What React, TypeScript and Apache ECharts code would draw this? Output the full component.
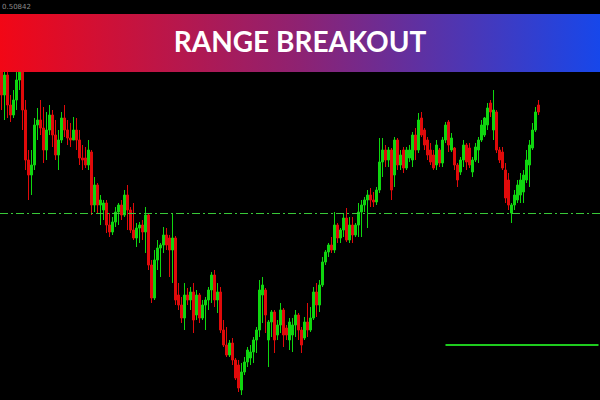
import React, { useEffect, useRef } from "react";
import * as echarts from "echarts";

// Quotes in points, one row per bar: [open, close, low, high]
const quotes: [number, number, number, number][] = [
  [940, 905, 890, 950], [905, 925, 880, 940], [925, 895, 882, 935], [895, 885, 878, 905],
  [885, 900, 882, 910], [900, 920, 890, 940], [920, 935, 910, 945], [935, 890, 870, 940],
  [890, 840, 830, 900], [840, 825, 800, 850], [825, 835, 805, 850], [835, 875, 830, 882],
  [875, 880, 860, 892], [880, 872, 865, 900], [872, 850, 837, 893], [850, 870, 840, 888],
  [870, 885, 865, 895], [885, 865, 853, 890], [865, 845, 840, 880], [845, 860, 830, 870],
  [860, 882, 857, 888], [882, 870, 863, 895], [870, 862, 855, 880], [862, 860, 853, 877],
  [860, 870, 860, 883], [870, 860, 850, 882], [860, 842, 835, 870], [842, 840, 830, 855],
  [842, 835, 832, 853], [835, 850, 830, 860], [848, 795, 785, 850], [795, 815, 788, 823],
  [815, 795, 787, 817], [795, 800, 775, 805], [790, 797, 780, 800], [797, 775, 767, 800],
  [775, 768, 763, 787], [768, 778, 765, 783], [778, 788, 773, 793], [788, 795, 775, 797],
  [795, 785, 780, 800], [785, 805, 783, 810], [805, 790, 770, 815], [790, 770, 767, 793],
  [770, 762, 760, 797], [762, 772, 753, 777], [772, 775, 757, 778], [775, 768, 760, 780],
  [768, 785, 747, 793], [785, 735, 730, 787], [735, 702, 697, 740], [702, 740, 700, 750],
  [740, 752, 730, 760], [752, 755, 723, 757], [755, 765, 747, 773], [765, 755, 750, 772],
  [762, 750, 723, 765], [750, 762, 717, 787], [762, 700, 695, 764], [705, 695, 690, 717],
  [695, 682, 677, 703], [682, 705, 670, 717], [705, 700, 695, 712], [700, 708, 690, 713],
  [708, 680, 667, 717], [685, 705, 680, 710], [705, 682, 677, 707], [682, 695, 680, 700],
  [695, 700, 670, 703], [700, 710, 690, 713], [710, 725, 697, 728], [725, 700, 693, 730],
  [700, 708, 687, 717], [708, 670, 667, 713], [670, 655, 653, 680], [655, 645, 643, 673],
  [645, 657, 643, 660], [657, 640, 635, 662], [640, 622, 620, 642], [635, 612, 608, 640],
  [610, 628, 605, 637], [628, 638, 625, 643], [638, 650, 633, 653], [642, 648, 635, 655],
  [648, 660, 637, 663], [660, 670, 647, 673], [670, 710, 663, 720], [705, 715, 677, 723],
  [710, 685, 667, 712], [660, 678, 633, 680], [678, 688, 663, 690], [688, 660, 647, 690],
  [665, 675, 660, 680], [675, 690, 667, 697], [690, 665, 653, 692], [672, 665, 660, 675],
  [660, 678, 650, 682], [665, 675, 648, 682], [675, 685, 663, 690], [685, 670, 660, 687],
  [670, 655, 647, 673], [662, 678, 660, 683], [678, 670, 663, 697], [670, 682, 668, 693],
  [682, 708, 680, 713], [708, 695, 683, 717], [695, 715, 688, 720], [715, 738, 713, 743],
  [738, 748, 735, 750], [748, 755, 743, 757], [755, 750, 747, 763], [750, 775, 747, 788],
  [775, 762, 757, 777], [762, 770, 757, 772], [770, 782, 763, 787], [782, 760, 758, 792],
  [760, 775, 757, 783], [775, 765, 757, 783], [765, 775, 763, 777], [775, 788, 763, 797],
  [788, 795, 763, 800], [795, 800, 788, 803], [800, 805, 772, 810], [805, 800, 793, 812],
  [800, 798, 793, 808], [798, 810, 795, 813], [810, 838, 807, 862], [838, 850, 823, 862],
  [850, 840, 833, 855], [840, 850, 833, 853], [850, 810, 800, 852], [825, 860, 813, 863],
  [860, 835, 830, 862], [835, 845, 830, 850], [850, 832, 827, 853], [832, 850, 830, 853],
  [842, 850, 838, 855], [840, 865, 833, 868], [865, 850, 840, 872], [850, 880, 847, 887],
  [882, 865, 863, 888], [870, 855, 850, 872], [860, 845, 840, 863], [850, 838, 835, 857],
  [845, 832, 830, 850], [835, 855, 830, 860], [850, 837, 833, 852], [837, 860, 833, 863],
  [860, 875, 857, 878], [878, 855, 848, 880], [850, 862, 848, 867], [852, 835, 830, 853],
  [835, 820, 813, 837], [828, 840, 825, 843], [840, 855, 833, 860], [855, 838, 830, 857],
  [852, 835, 832, 857], [828, 840, 823, 843], [840, 853, 838, 857], [850, 860, 837, 863],
  [860, 875, 858, 880], [865, 882, 863, 883], [875, 892, 870, 897], [897, 888, 883, 900],
  [870, 890, 860, 910], [888, 850, 847, 890], [850, 840, 837, 853], [848, 832, 830, 853],
  [830, 802, 797, 837], [820, 795, 790, 827], [787, 795, 777, 797], [795, 805, 790, 810],
  [800, 815, 797, 820], [805, 820, 797, 827], [808, 825, 797, 830], [820, 840, 817, 850],
  [835, 855, 813, 860], [852, 870, 850, 877], [870, 888, 868, 893], [895, 888, 885, 900],
];

// Bar slots on the time axis (empty slots leave room on the right)
const slotCount = 200;
const slots = Array.from({ length: slotCount }, (_, i) => String(i));

// Price window shown (points)
const priceMin = 600;
const priceMax = 1000;

// Range level (dash-dot) and breakout level (solid, from bar 148 to the right edge)
const rangeLevel = 787;
const breakoutLevel = 655;
const breakoutFrom = "148";
const breakoutTo = "199";

const title = "RANGE BREAKOUT";
const priceLabel = "0.50842";

export default function App() {
  const ref = useRef<HTMLDivElement>(null);

  useEffect(() => {
    if (!ref.current) return;
    const chart = echarts.init(ref.current, undefined, { renderer: "svg" });
    chart.setOption({
      animation: false,
      backgroundColor: "#000000",
      grid: { left: 0, right: 0, top: 0, bottom: 0 },
      xAxis: {
        type: "category",
        data: slots,
        boundaryGap: true,
        show: false,
      },
      yAxis: {
        type: "value",
        min: priceMin,
        max: priceMax,
        show: false,
        splitLine: { show: false },
      },
      series: [
        {
          type: "candlestick",
          data: quotes,
          barWidth: 2,
          itemStyle: {
            color: "#0fd60f",
            color0: "#e00a0a",
            borderColor: "#0fd60f",
            borderColor0: "#e00a0a",
            borderWidth: 1,
          },
          markLine: {
            silent: true,
            symbol: "none",
            label: { show: false },
            lineStyle: { color: "#38c838", width: 1, type: [8, 3, 2, 3], opacity: 1 },
            emphasis: { disabled: true },
            data: [
              {
                yAxis: rangeLevel,
                lineStyle: { color: "#38c838", width: 1, type: [8, 3, 2, 3], opacity: 1 },
              },
              [
                { coord: [breakoutFrom, breakoutLevel], lineStyle: { color: "#1ecb1e", width: 2, type: "solid" } },
                { coord: [breakoutTo, breakoutLevel] },
              ],
            ],
          },
        },
      ],
      graphic: [
        {
          type: "text",
          left: 2,
          top: 3,
          z: 100,
          style: { text: priceLabel, fill: "#8c8c8c", font: "7px 'DejaVu Sans'" },
        },
        {
          type: "rect",
          z: 100,
          shape: { x: 0, y: 14, width: 600, height: 58 },
          style: {
            fill: {
              type: "linear",
              x: 0,
              y: 0,
              x2: 1,
              y2: 0,
              colorStops: [
                { offset: 0, color: "#f20716" },
                { offset: 0.5, color: "#8e2272" },
                { offset: 1, color: "#1747ea" },
              ],
            },
          },
        },
        {
          type: "text",
          z: 101,
          x: 300,
          y: 41,
          style: {
            text: title,
            fill: "#ffffff",
            font: "bold 28px Lato",
            textAlign: "center",
            textVerticalAlign: "middle",
          },
        },
      ],
    });
    return () => chart.dispose();
  }, []);

  return (
    <div
      ref={ref}
      style={{ position: "fixed", left: 0, top: 0, width: 600, height: 400, background: "#000" }}
    />
  );
}
